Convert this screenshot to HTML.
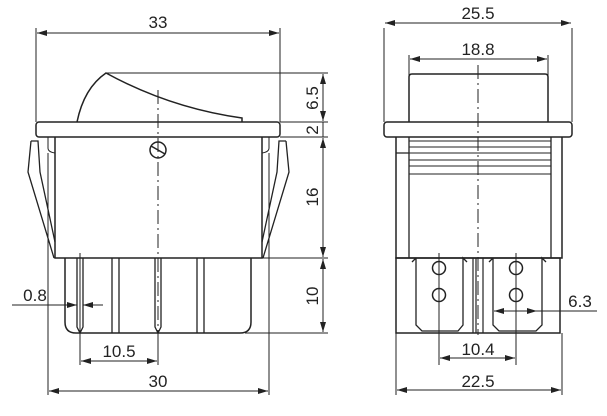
<!DOCTYPE html>
<html><head><style>
body{margin:0;background:#fff}
svg{display:block}
text{font-family:"Liberation Sans",sans-serif;font-size:17px;fill:#222}
</style></head><body>
<svg width="607" height="416" viewBox="0 0 607 416" xmlns="http://www.w3.org/2000/svg">
<defs>
<marker id="a" viewBox="0 0 10 6" refX="10" refY="3" markerWidth="10" markerHeight="6" orient="auto-start-reverse" markerUnits="userSpaceOnUse"><path d="M0,0 L10,3 L0,6 z" fill="#222"/></marker>
</defs>
<g stroke="#222" fill="none" stroke-width="1">
<line x1="36" y1="28" x2="36" y2="122"/><line x1="280" y1="28" x2="280" y2="122"/>
<line x1="37" y1="33" x2="279" y2="33" marker-start="url(#a)" marker-end="url(#a)"/>
<line x1="106" y1="73" x2="328" y2="73"/>
<line x1="280" y1="122" x2="328" y2="122"/><line x1="280" y1="137" x2="328" y2="137"/>
<line x1="262" y1="258" x2="328" y2="258"/><line x1="245" y1="333" x2="328" y2="333"/>
<line x1="323" y1="74" x2="323" y2="121" marker-start="url(#a)" marker-end="url(#a)"/>
<line x1="323" y1="122" x2="323" y2="137"/>
<line x1="323" y1="138" x2="323" y2="257" marker-start="url(#a)" marker-end="url(#a)"/>
<line x1="323" y1="259" x2="323" y2="332" marker-start="url(#a)" marker-end="url(#a)"/>
<path d="M77,122 Q84,88 106,73 Q170,108 242,118 L242,122" stroke-width="1.5"/>
<rect x="36" y="122" width="244" height="15" rx="3" stroke-width="1.5"/>
<path d="M55,137 V258 H262 V137" stroke-width="1.5"/>
<path d="M48,137 V148 Q48,152 55,153 M269,137 V148 Q269,152 262,153"/>
<path d="M31,141 L38,141 L40,172 L55,242 M31,141 L28,172 L54,258" stroke-width="1.3"/>
<path d="M286,141 L279,141 L277,172 L262,242 M286,141 L289,172 L263,258" stroke-width="1.3"/>
<line x1="48" y1="153" x2="48" y2="395"/><line x1="269" y1="153" x2="269" y2="395"/>
<circle cx="158" cy="150" r="8" stroke-width="1.5"/><line x1="151" y1="146" x2="165" y2="154" stroke-width="1.5"/>
<line x1="158" y1="90" x2="158" y2="335" stroke-dasharray="14,4,2,4"/>
<path d="M65,258 V322 Q65,333 76,333 H240 Q251,333 251,322 V258" stroke-width="1.5"/>
<path d="M112,258 V333 M119,258 V333 M197,258 V333 M204,258 V333" stroke-width="1.3"/>
<path d="M77,258 V327 L80,333 L83,327 V258 M155,258 V327 L158,333 L161,327 V258" stroke-width="1.3"/>
<line x1="80" y1="253" x2="80" y2="365"/>
<line x1="158" y1="335" x2="158" y2="365"/>
<line x1="12" y1="305" x2="77" y2="305" marker-end="url(#a)"/>
<line x1="103" y1="305" x2="83" y2="305" marker-end="url(#a)"/>
<line x1="81" y1="361" x2="157" y2="361" marker-start="url(#a)" marker-end="url(#a)"/>
<line x1="49" y1="391" x2="268" y2="391" marker-start="url(#a)" marker-end="url(#a)"/>
<line x1="384" y1="28" x2="384" y2="122"/><line x1="572" y1="28" x2="572" y2="122"/>
<line x1="385" y1="23" x2="571" y2="23" marker-start="url(#a)" marker-end="url(#a)"/>
<line x1="409" y1="55" x2="409" y2="75"/><line x1="548" y1="55" x2="548" y2="75"/>
<line x1="410" y1="59" x2="547" y2="59" marker-start="url(#a)" marker-end="url(#a)"/>
<path d="M409,122 V77 Q409,74 412,74 H545 Q548,74 548,77 V122" stroke-width="1.5"/>
<rect x="384" y="122" width="188" height="15" rx="3" stroke-width="1.5"/>
<path d="M396,137 V258 H562 V137" stroke-width="1.5"/>
<path d="M409,137 V258 M551,137 V258 M396,153 H409" stroke-width="1.3"/>
<path d="M409,141 H551 M409,147 H551 M409,153 H551 M409,160 H551 M409,166 H551 M409,174 H551"/>
<line x1="478" y1="65" x2="478" y2="335" stroke-dasharray="14,4,2,4"/>
<rect x="396" y="258" width="164" height="75" stroke-width="1.5"/>
<path d="M412,262 L416,258 M416,258 V325 L422,331 H458 L463,325 V258 L467,262" stroke-width="1.3"/>
<path d="M489,262 L493,258 M493,258 V325 L499,331 H536 L542,325 V258 L546,262" stroke-width="1.3"/>
<path d="M473,258 V333 M483,258 V333 M476,258 V333" stroke-width="1.2"/>
<circle cx="439" cy="268" r="6.5" stroke-width="1.5"/><circle cx="439" cy="295" r="6.5" stroke-width="1.5"/>
<circle cx="516" cy="268" r="6.5" stroke-width="1.5"/><circle cx="516" cy="295" r="6.5" stroke-width="1.5"/>
<line x1="439" y1="253" x2="439" y2="365"/><line x1="516" y1="253" x2="516" y2="365"/>
<line x1="396" y1="333" x2="396" y2="395"/><line x1="562" y1="333" x2="562" y2="395"/>
<line x1="494" y1="311" x2="537" y2="311" marker-start="url(#a)" marker-end="url(#a)"/>
<line x1="537" y1="311" x2="597" y2="311"/>
<line x1="440" y1="358" x2="515" y2="358" marker-start="url(#a)" marker-end="url(#a)"/>
<line x1="397" y1="390" x2="561" y2="390" marker-start="url(#a)" marker-end="url(#a)"/>
</g>
<text x="158" y="28" text-anchor="middle">33</text>
<text x="35" y="301" text-anchor="middle">0.8</text>
<text x="119" y="357" text-anchor="middle">10.5</text>
<text x="158" y="387" text-anchor="middle">30</text>
<text transform="translate(318,98) rotate(-90)" text-anchor="middle">6.5</text>
<text transform="translate(318,130) rotate(-90)" text-anchor="middle">2</text>
<text transform="translate(318,197) rotate(-90)" text-anchor="middle">16</text>
<text transform="translate(318,296) rotate(-90)" text-anchor="middle">10</text>
<text x="478" y="19" text-anchor="middle">25.5</text>
<text x="478" y="55" text-anchor="middle">18.8</text>
<text x="580" y="307" text-anchor="middle">6.3</text>
<text x="478" y="355" text-anchor="middle">10.4</text>
<text x="478" y="387" text-anchor="middle">22.5</text>
</svg>
</body></html>
